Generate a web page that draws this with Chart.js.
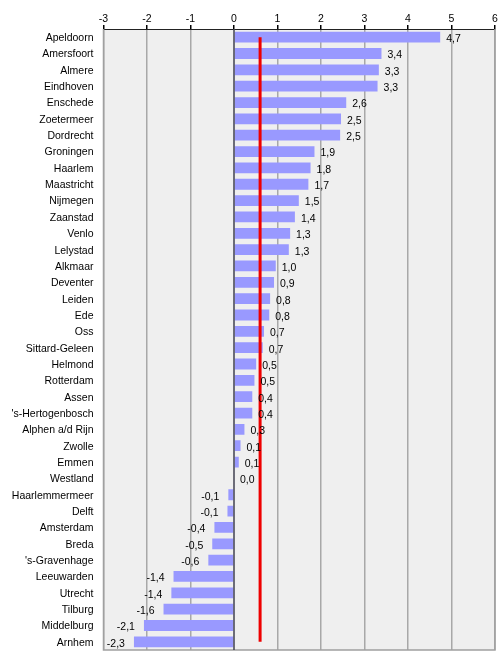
<!DOCTYPE html>
<html>
<head>
<meta charset="utf-8">
<script src="https://cdn.jsdelivr.net/npm/chart.js@4"></script>
<style>
  html, body { margin: 0; padding: 0; background: #fff; overflow: hidden; }
  canvas { display: block; }
</style>
</head>
<body>
<canvas id="myChart" width="500" height="653"></canvas>
<script>
const cities = ['Apeldoorn', 'Amersfoort', 'Almere', 'Eindhoven', 'Enschede', 'Zoetermeer', 'Dordrecht',
    'Groningen', 'Haarlem', 'Maastricht', 'Nijmegen', 'Zaanstad', 'Venlo', 'Lelystad', 'Alkmaar',
    'Deventer', 'Leiden', 'Ede', 'Oss', 'Sittard-Geleen', 'Helmond', 'Rotterdam', 'Assen',
    "'s-Hertogenbosch", 'Alphen a/d Rijn', 'Zwolle', 'Emmen', 'Westland', 'Haarlemmermeer', 'Delft',
    'Amsterdam', 'Breda', "'s-Gravenhage", 'Leeuwarden', 'Utrecht', 'Tilburg', 'Middelburg', 'Arnhem'];

// bar lengths
const values = [4.74, 3.39, 3.33, 3.30, 2.58, 2.46, 2.44, 1.85, 1.76, 1.71, 1.49, 1.40, 1.29, 1.26, 0.96,
    0.92, 0.83, 0.81, 0.69, 0.66, 0.51, 0.47, 0.42, 0.42, 0.24, 0.15, 0.11, 0.0, -0.13, -0.15,
    -0.45, -0.50, -0.59, -1.39, -1.44, -1.62, -2.07, -2.30];

// printed labels next to the bars
const shown = ['4,7', '3,4', '3,3', '3,3', '2,6', '2,5', '2,5', '1,9', '1,8', '1,7', '1,5', '1,4', '1,3', '1,3', '1,0',
    '0,9', '0,8', '0,8', '0,7', '0,7', '0,5', '0,5', '0,4', '0,4', '0,3', '0,1', '0,1', '0,0', '-0,1', '-0,1',
    '-0,4', '-0,5', '-0,6', '-1,4', '-1,4', '-1,6', '-2,1', '-2,3'];

const average = 0.6;
const xTicks = [-3, -2, -1, 0, 1, 2, 3, 4, 5, 6];

const font = { family: 'Liberation Sans, Arial, sans-serif', size: 10.5 };

const plotBox = {
    id: 'plotBox',
    beforeDraw(chart) {
        const { ctx, chartArea: a } = chart;
        ctx.save();
        ctx.fillStyle = '#fff';
        ctx.fillRect(0, 0, chart.width, chart.height);
        ctx.fillStyle = '#efefef';
        ctx.fillRect(a.left, a.top, a.right - a.left, a.bottom - a.top);
        ctx.restore();
    },
    afterDatasetsDraw(chart) {
        const { ctx, chartArea: a, scales } = chart;
        ctx.save();
        // frame
        ctx.strokeStyle = '#a0a0a0';
        ctx.lineWidth = 1.5;
        ctx.beginPath();
        ctx.moveTo(a.left, a.top);
        ctx.lineTo(a.left, a.bottom);
        ctx.lineTo(a.right, a.bottom);
        ctx.lineTo(a.right, a.top);
        ctx.stroke();
        // zero line
        const x0 = scales.x.getPixelForValue(0);
        ctx.strokeStyle = '#404050';
        ctx.lineWidth = 1.5;
        ctx.beginPath();
        ctx.moveTo(x0, a.top);
        ctx.lineTo(x0, a.bottom);
        ctx.stroke();
        // value labels
        const meta = chart.getDatasetMeta(1);
        ctx.fillStyle = '#000';
        ctx.font = `${font.size}px ${font.family}`;
        ctx.textBaseline = 'middle';
        meta.data.forEach((bar, i) => {
            if (values[i] >= 0) {
                ctx.textAlign = 'left';
                ctx.fillText(shown[i], bar.x + 6, bar.y + 2);
            } else {
                ctx.textAlign = 'right';
                ctx.fillText(shown[i], bar.x - 9, bar.y + 2);
            }
        });
        ctx.restore();
    }
};

const ctx = document.getElementById('myChart').getContext('2d');
new Chart(ctx, {
    type: 'bar',
    data: {
        labels: cities,
        datasets: [{
            type: 'line',
            indexAxis: 'y',
            data: cities.map(() => average),
            borderColor: '#ee0000',
            borderWidth: 3,
            pointRadius: 0,
            order: 0
        }, {
            type: 'bar',
            data: values,
            backgroundColor: '#9999ff',
            barPercentage: 0.66,
            categoryPercentage: 1,
            order: 1
        }]
    },
    plugins: [plotBox],
    options: {
        indexAxis: 'y',
        responsive: false,
        animation: false,
        devicePixelRatio: 1,
        layout: { padding: { left: 0, right: 5, top: 0, bottom: 3 } },
        plugins: {
            legend: { display: false },
            tooltip: { enabled: false }
        },
        scales: {
            x: {
                position: 'top',
                min: -3,
                max: 6,
                afterBuildTicks: scale => { scale.ticks = xTicks.map(v => ({ value: v })); },
                afterFit: scale => {
                    scale.height = 29;
                    scale.paddingLeft = 0;
                    scale.paddingRight = 0;
                },
                ticks: { font: font, color: '#000', padding: 0 },
                grid: {
                    color: c => c.tick && c.tick.value === 0 ? 'rgba(0,0,0,0)' : '#a8a8a8',
                    lineWidth: 1.5,
                    tickColor: '#000',
                    tickLength: 4
                },
                border: { color: '#222', width: 1 }
            },
            y: {
                afterFit: scale => {
                    scale.width = 103.5;
                    scale.paddingTop = 0;
                    scale.paddingBottom = 0;
                },
                ticks: { font: font, color: '#000', padding: 10, autoSkip: false, labelOffset: 1 },
                grid: { display: false, drawTicks: false },
                border: { display: false }
            }
        }
    }
});
</script>
</body>
</html>
